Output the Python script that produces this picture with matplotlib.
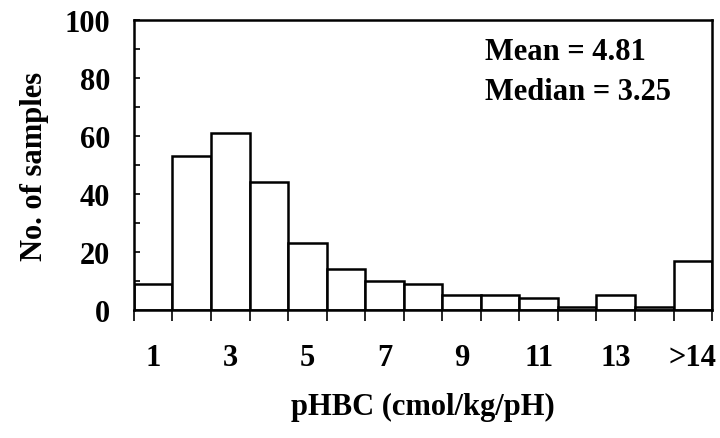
import matplotlib
matplotlib.use("Agg")
import matplotlib.pyplot as plt
from matplotlib.ticker import MultipleLocator, FixedLocator

plt.rcParams['font.family'] = ['Liberation Serif', 'DejaVu Serif']
plt.rcParams['font.weight'] = 'bold'

bin_labels = ['1', '2', '3', '4', '5', '6', '7', '8', '9', '10', '11', '12', '13', '14', '>14']
counts = [9, 53, 61, 44, 23, 14, 10, 9, 5, 5, 4, 1, 5, 1, 17]
tick_labels = ['1', '3', '5', '7', '9', '11', '13', '>14']
mean_val = 4.81
median_val = 3.25

FS = 22

fig = plt.figure(figsize=(7.2, 4.39), dpi=100)
ax = fig.add_axes([0.186, 0.292, 0.803, 0.660])

x = list(range(len(counts)))
ax.bar(x, counts, width=1.0, color='white', edgecolor='black', linewidth=1.8, zorder=2)

ax.set_xlim(-0.5, len(counts) - 0.5)
ax.set_ylim(0, 100)

major_pos = [i for i, lab in enumerate(bin_labels) if lab in tick_labels]
ax.set_xticks(major_pos)
ax.set_xticklabels(tick_labels)
ax.xaxis.set_minor_locator(FixedLocator([i - 0.5 for i in range(len(counts) + 1)]))
ax.tick_params(axis='x', which='major', length=0, pad=24, labelsize=FS)
ax.tick_params(axis='x', which='minor', direction='out', length=8, width=1.2)

ax.yaxis.set_major_locator(MultipleLocator(20))
ax.yaxis.set_minor_locator(MultipleLocator(10))
ax.tick_params(axis='y', which='both', direction='in', length=4, width=1.2, labelsize=FS, pad=17)

for s in ax.spines.values():
    s.set_linewidth(1.8)

ax.set_ylabel('No. of samples', fontsize=FS, fontweight='bold', labelpad=11)
ax.set_xlabel('pHBC (cmol/kg/pH)', fontsize=FS, fontweight='bold', labelpad=14)

ax.text(0.607, 0.866, f'Mean = {mean_val:.2f}', transform=ax.transAxes, fontsize=FS,
        fontweight='bold', ha='left', va='baseline')
ax.text(0.607, 0.728, f'Median = {median_val:.2f}', transform=ax.transAxes, fontsize=FS,
        fontweight='bold', ha='left', va='baseline')

fig.savefig('out.png', dpi=100)
